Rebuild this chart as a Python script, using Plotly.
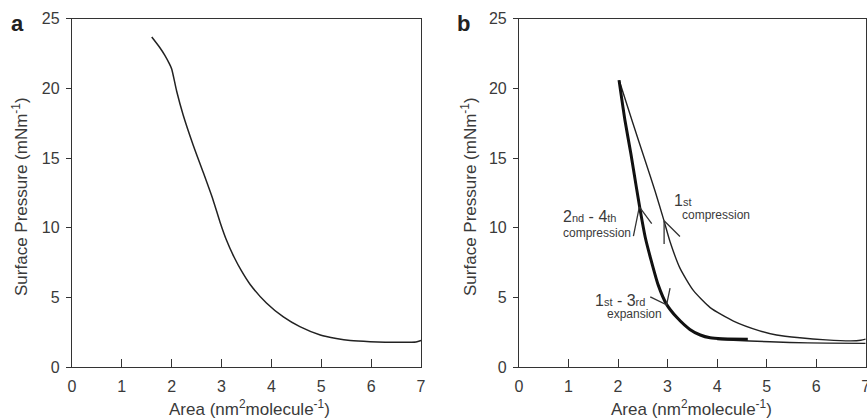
import plotly.graph_objects as go

# Panel a: single isotherm
a_area = [1.6, 1.75, 1.86, 1.95, 2.0, 2.1, 2.23, 2.43, 2.63, 2.83, 2.97, 3.1, 3.25, 3.4, 3.57, 3.9, 4.24, 4.57, 4.98, 5.3, 5.58, 5.98, 6.58, 6.9, 7.0]
a_pres = [23.7, 23.0, 22.4, 21.8, 21.4, 19.8, 18.1, 15.95, 14.0, 12.0, 10.4, 9.1, 7.9, 6.9, 5.95, 4.6, 3.6, 2.9, 2.3, 2.05, 1.9, 1.82, 1.78, 1.8, 1.9]

# Panel b: 1st compression (thin, upper)
b1_area = [2.03, 2.3, 2.55, 2.75, 2.92, 3.05, 3.25, 3.52, 3.86, 4.33, 4.86, 5.2, 5.67, 6.2, 6.7, 6.9, 7.0]
b1_pres = [20.5, 17.5, 14.8, 12.6, 10.6, 9.0, 7.1, 5.5, 4.27, 3.3, 2.6, 2.3, 2.1, 1.95, 1.88, 1.92, 2.0]

# Panel b: 2nd-4th compression / 1st-3rd expansion (thick)
b2_area = [2.02, 2.14, 2.26, 2.37, 2.45, 2.55, 2.65, 2.81, 2.98, 3.19, 3.45, 3.66, 3.86, 4.1, 4.62]
b2_pres = [20.6, 17.7, 15.3, 12.9, 11.2, 9.3, 7.9, 5.9, 4.5, 3.55, 2.7, 2.3, 2.1, 2.03, 2.0]

# Panel b: lower thin continuation
b3_area = [4.0, 4.66, 5.47, 6.2, 7.0]
b3_pres = [1.98, 1.87, 1.76, 1.72, 1.7]

# Arrow chevrons (area, pressure)
arrow_compr24 = [(2.31, 9.4), (2.43, 11.5), (2.68, 10.3)]
arrow_compr1 = [(2.93, 8.84), (2.93, 10.5), (3.25, 9.37)]
arrow_expan = [(2.65, 5.04), (2.98, 4.47), (3.05, 5.67)]

x_ticks = [0, 1, 2, 3, 4, 5, 6, 7]
y_ticks = [0, 5, 10, 15, 20, 25]

FONT = "Liberation Sans, Arial, sans-serif"
TXT = "#3a3a3a"
LINE = "#222222"

fig = go.Figure()
fig.add_trace(go.Scatter(x=a_area, y=a_pres, mode="lines", line=dict(color=LINE, width=1.5, shape="spline", smoothing=0.6),
                         xaxis="x", yaxis="y", showlegend=False))
fig.add_trace(go.Scatter(x=b1_area, y=b1_pres, mode="lines", line=dict(color=LINE, width=1.4, shape="spline", smoothing=0.6),
                         xaxis="x2", yaxis="y2", showlegend=False))
fig.add_trace(go.Scatter(x=b3_area, y=b3_pres, mode="lines", line=dict(color=LINE, width=1.4, shape="spline", smoothing=0.6),
                         xaxis="x2", yaxis="y2", showlegend=False))
fig.add_trace(go.Scatter(x=b2_area, y=b2_pres, mode="lines", line=dict(color="#111111", width=3, shape="spline", smoothing=0.6),
                         xaxis="x2", yaxis="y2", showlegend=False))

for arr in (arrow_compr24, arrow_compr1, arrow_expan):
    fig.add_trace(go.Scatter(x=[p[0] for p in arr], y=[p[1] for p in arr], mode="lines",
                             line=dict(color="#333333", width=1.3), xaxis="x2", yaxis="y2", showlegend=False))

xtitle = "Area (nm<sup>2</sup>molecule<sup>-1</sup>)"
ytitle = "Surface Pressure (mNm<sup>-1</sup>)"

def xax(domain, anchor):
    return dict(domain=domain, anchor=anchor, range=[0, 7], tickvals=x_ticks, ticks="inside", ticklen=8,
                tickwidth=1.2, tickcolor="#333", showline=True, linecolor="#333", linewidth=1.2, mirror=True,
                showgrid=False, zeroline=False, automargin=False, ticklabelstandoff=5, ticklabeloverflow="allow",
                tickfont=dict(family=FONT, size=16, color=TXT))

def yax(anchor):
    return dict(domain=[0.124, 0.955], anchor=anchor, range=[0, 25], tickvals=y_ticks, ticks="outside", ticklen=5,
                tickwidth=1.2, tickcolor="#333", showline=True, linecolor="#333", linewidth=1.2, mirror=True,
                showgrid=False, zeroline=False, automargin=False, ticklabelstandoff=3,
                tickfont=dict(family=FONT, size=16, color=TXT))

fig.update_layout(
    width=867, height=419,
    margin=dict(l=0, r=0, t=0, b=0),
    paper_bgcolor="white", plot_bgcolor="white",
    xaxis=xax([0.083, 0.4856], "y"),
    yaxis=yax("x"),
    xaxis2=xax([0.5986, 0.9985], "y2"),
    yaxis2=yax("x2"),
)

small = "font-size:11px"
annots = [
    dict(text="<b>a</b>", xref="paper", yref="paper", x=17/867, y=1-24/419, font=dict(size=22, color="#222")),
    dict(text="<b>b</b>", xref="paper", yref="paper", x=464/867, y=1-24/419, font=dict(size=22, color="#222")),
    dict(text=xtitle, xref="paper", yref="paper", x=249/867, y=1-408/419, font=dict(size=17, color=TXT)),
    dict(text=xtitle, xref="paper", yref="paper", x=691/867, y=1-408/419, font=dict(size=17, color=TXT)),
    dict(text=ytitle, xref="paper", yref="paper", x=20/867, y=1-197/419, textangle=-90, font=dict(size=17, color=TXT)),
    dict(text=ytitle, xref="paper", yref="paper", x=469/867, y=1-197/419, textangle=-90, font=dict(size=17, color=TXT)),
    dict(text=f"2<span style='{small}'>nd</span> - 4<span style='{small}'>th</span>", xref="x2", yref="y2",
         x=1.42, y=10.8, font=dict(size=16, color=TXT)),
    dict(text="compression", xref="x2", yref="y2", x=1.58, y=9.6, font=dict(size=12, color=TXT)),
    dict(text=f"1<span style='{small}'>st</span>", xref="x2", yref="y2", x=3.09, y=11.95, xanchor="left",
         font=dict(size=16, color=TXT)),
    dict(text="compression", xref="x2", yref="y2", x=3.25, y=10.9, xanchor="left", font=dict(size=12, color=TXT)),
    dict(text=f"1<span style='{small}'>st</span> - 3<span style='{small}'>rd</span>", xref="x2", yref="y2",
         x=2.03, y=4.8, font=dict(size=16, color=TXT)),
    dict(text="expansion", xref="x2", yref="y2", x=2.33, y=3.8, font=dict(size=12, color=TXT)),
]
for a in annots:
    a.setdefault("showarrow", False)
    a.setdefault("xanchor", "center")
    a.setdefault("yanchor", "middle")
    a["font"]["family"] = FONT
    fig.add_annotation(**a)

fig.write_html("out.html", config={"displayModeBar": False},
               post_script="document.body.style.margin='0px';")
